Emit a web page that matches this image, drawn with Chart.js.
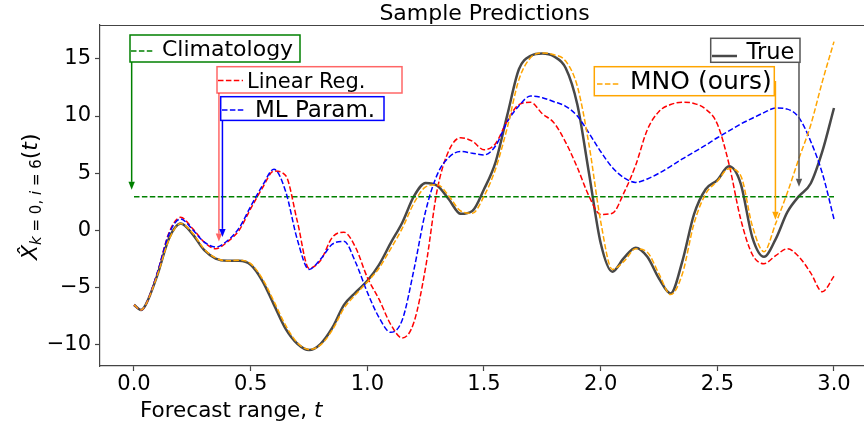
<!DOCTYPE html>
<html>
<head>
<meta charset="utf-8">
<script src="https://cdn.jsdelivr.net/npm/chart.js@4.4.0/dist/chart.umd.min.js"></script>
<style>
  html, body { margin: 0; padding: 0; background: #fff; overflow: hidden; }
</style>
</head>
<body>
<canvas id="predChart" width="864" height="423"></canvas>
<script>
// forecast time axis
const t = [0, 0.03, 0.05, 0.1, 0.15, 0.2, 0.25, 0.3, 0.35, 0.4, 0.45, 0.5, 0.55, 0.6, 0.65, 0.7, 0.75,
  0.8, 0.85, 0.9, 0.95, 1.0, 1.05, 1.1, 1.15, 1.2, 1.25, 1.3, 1.35, 1.4, 1.45, 1.5, 1.55, 1.6, 1.65,
  1.7, 1.75, 1.8, 1.85, 1.9, 1.95, 2.0, 2.05, 2.1, 2.15, 2.2, 2.25, 2.3, 2.35, 2.4, 2.45, 2.5, 2.55,
  2.6, 2.65, 2.7, 2.75, 2.8, 2.85, 2.9, 2.95, 3.0];

const trueVals = [-6.5, -6.95, -6.5, -3.9, -0.7, 0.6, -0.3, -1.7, -2.45, -2.65, -2.65, -3.0, -4.4, -6.5,
  -8.6, -9.9, -10.45, -9.9, -8.5, -6.5, -5.4, -4.4, -3.0, -1.1, 0.7, 3.0, 4.15, 3.9, 2.7, 1.45, 1.7, 3.6,
  6.0, 10.1, 14.1, 15.25, 15.45, 15.2, 14.2, 11.0, 5.0, -1.1, -3.6, -2.4, -1.5, -2.3, -4.2, -5.5, -2.7,
  1.4, 3.6, 4.4, 5.6, 4.1, -0.6, -2.3, -0.75, 1.6, 3.0, 4.1, 6.9, 10.7];

const mnoVals = [-6.5, -6.95, -6.5, -3.9, -0.8, 0.6, -0.2, -1.6, -2.4, -2.65, -2.6, -2.9, -4.2, -6.2,
  -8.3, -9.8, -10.4, -10.0, -8.7, -6.8, -5.6, -4.5, -3.3, -1.6, 0.2, 2.4, 3.8, 4.0, 3.0, 1.7, 1.5, 3.0,
  5.4, 9.0, 13.2, 15.1, 15.5, 15.35, 14.8, 12.6, 7.5, 0.8, -3.4, -2.7, -1.6, -1.9, -3.8, -5.6, -3.8,
  0.6, 3.2, 4.3, 5.4, 4.8, 0.4, -1.85, 0.6, 3.3, 6.3, 9.2, 13.0, 16.5];

const linRegVals = [-6.5, -6.95, -6.5, -3.7, -0.2, 1.15, 0.2, -1.0, -1.6, -1.0, 0.0, 1.9, 3.7, 5.2,
  4.8, 0.8, -3.3, -2.6, -0.6, -0.15, -1.5, -4.1, -6.0, -8.2, -9.4, -8.0, -3.2, 3.6, 7.0, 8.1, 7.8, 7.05,
  7.6, 9.6, 11.0, 11.2, 10.2, 9.4, 7.7, 5.5, 3.0, 1.4, 1.5, 3.3, 5.7, 8.8, 10.4, 11.0, 11.2, 11.1,
  10.6, 9.3, 5.8, 1.0, -2.1, -2.9, -2.2, -1.6, -2.3, -3.7, -5.35, -4.0];

const mlParamVals = [-6.5, -6.95, -6.5, -3.7, -0.3, 1.0, 0.1, -1.0, -1.45, -0.9, 0.2, 2.1, 3.9, 5.35,
  3.4, -0.8, -3.4, -2.5, -1.2, -0.95, -2.8, -5.4, -7.6, -8.9, -7.8, -3.4, 1.7, 4.9, 6.4, 6.9, 6.75, 6.6,
  7.4, 9.5, 10.9, 11.75, 11.6, 11.25, 10.85, 10.0, 8.5, 6.9, 5.5, 4.6, 4.2, 4.5, 5.0, 5.6, 6.25, 6.85,
  7.45, 8.1, 8.7, 9.3, 9.8, 10.3, 10.7, 10.6, 9.85, 7.8, 5.0, 1.0];

const climT = [0, 3];
const climVals = [2.95, 2.95];

const xTicks = [0, 0.5, 1.0, 1.5, 2.0, 2.5, 3.0];
const yTicks = [-10, -5, 0, 5, 10, 15];

const pts = (xs, ys) => xs.map((x, i) => ({ x: x, y: ys[i] }));

const FONT = "'DejaVu Sans', sans-serif";
const DASH = [5.5, 2.4];

// labelled boxes with arrows pointing into the plot (box in pixels, tip in data units)
const notes = [
  { text: "Climatology", size: 22, edge: "#008000", line: "#008000", dash: true,
    box: [130, 35, 170, 27], textX: 162, base: 55.5, sample: [131, 153, 51], from: 50, tip: [-0.01, 3.55] },
  { text: "Linear Reg.", size: 21, edge: "rgba(255,0,0,0.6)", line: "#ff0000", dash: true,
    box: [217, 66.7, 185, 26.3], textX: 247, base: 88, sample: [218, 243, 80.5], from: 80, tip: [0.364, -0.97] },
  { text: "ML Param.", size: 23, edge: "#0000ff", line: "#0000ff", dash: true,
    box: [220.7, 96.7, 163.3, 23.7], textX: 255, base: 116.5, sample: [222, 245, 110], from: 108, tip: [0.379, -0.56] },
  { text: "True", size: 22.5, edge: "#555555", line: "#484848", dash: false,
    box: [710.7, 38.3, 89.3, 24], textX: 746.5, base: 58.7, sample: [712, 737, 56], from: 50, tip: [2.85, 3.81] },
  { text: "MNO (ours)", size: 25, edge: "#ffa500", line: "#ffa500", dash: true,
    box: [594.3, 66.7, 180, 29], textX: 630, base: 89.3, sample: [597, 620, 84], from: 81, tip: [2.749, 0.93] }
];

function drawRuns(ctx, x, y, runs) {
  for (const r of runs) {
    ctx.font = r.font;
    ctx.fillText(r.text, x, y + (r.dy || 0));
    x += ctx.measureText(r.text).width;
  }
}

function drawArrow(ctx, x0, y0, x1, y1, color) {
  const a = Math.atan2(y1 - y0, x1 - x0);
  const L = 8, W = 3.2;
  ctx.save();
  ctx.setLineDash([]);
  ctx.strokeStyle = color;
  ctx.fillStyle = color;
  ctx.lineWidth = 1.5;
  ctx.beginPath();
  ctx.moveTo(x0, y0);
  ctx.lineTo(x1 - L * Math.cos(a), y1 - L * Math.sin(a));
  ctx.stroke();
  ctx.beginPath();
  ctx.moveTo(x1, y1);
  ctx.lineTo(x1 - L * Math.cos(a) + W * Math.sin(a), y1 - L * Math.sin(a) - W * Math.cos(a));
  ctx.lineTo(x1 - L * Math.cos(a) - W * Math.sin(a), y1 - L * Math.sin(a) + W * Math.cos(a));
  ctx.closePath();
  ctx.fill();
  ctx.restore();
}

const decorations = {
  id: "decorations",
  afterDraw(chart) {
    const ctx = chart.ctx;
    const area = chart.chartArea;
    const xs = chart.scales.x, ys = chart.scales.y;
    ctx.save();

    // top spine
    ctx.strokeStyle = "#444";
    ctx.lineWidth = 1.2;
    ctx.beginPath();
    ctx.moveTo(area.left, area.top + 0.5);
    ctx.lineTo(area.right, area.top + 0.5);
    ctx.stroke();

    // title
    ctx.fillStyle = "#000";
    ctx.textBaseline = "alphabetic";
    ctx.textAlign = "center";
    ctx.font = "22px " + FONT;
    ctx.fillText("Sample Predictions", 484.5, 19.5);

    // x axis label
    ctx.textAlign = "left";
    drawRuns(ctx, 140, 417, [
      { text: "Forecast range, ", font: "21.5px " + FONT },
      { text: "t", font: "italic 21.5px " + FONT }
    ]);

    // y axis label, rotated
    ctx.save();
    ctx.translate(37, 260);
    ctx.rotate(-Math.PI / 2);
    drawRuns(ctx, 0, 0, [
      { text: "X\u0302", font: "italic 22px " + FONT },
      { text: "k", font: "italic 15px " + FONT, dy: 4 },
      { text: " = 0, ", font: "15px " + FONT, dy: 4 },
      { text: "i", font: "italic 15px " + FONT, dy: 4 },
      { text: " = 6", font: "15px " + FONT, dy: 4 },
      { text: "(", font: "22px " + FONT },
      { text: "t", font: "italic 22px " + FONT },
      { text: ")", font: "22px " + FONT }
    ]);
    ctx.restore();

    // annotation boxes
    for (const n of notes) {
      const [bx, by, bw, bh] = n.box;
      const tx = xs.getPixelForValue(n.tip[0]);
      const ty = ys.getPixelForValue(n.tip[1]);
      drawArrow(ctx, tx, n.from, tx, ty, n.edge);

      ctx.fillStyle = "#fff";
      ctx.fillRect(bx, by, bw, bh);
      ctx.setLineDash([]);
      ctx.strokeStyle = n.edge;
      ctx.lineWidth = 1.5;
      ctx.strokeRect(bx, by, bw, bh);

      ctx.strokeStyle = n.line;
      ctx.lineWidth = n.dash ? 1.5 : 2.5;
      ctx.setLineDash(n.dash ? DASH : []);
      ctx.beginPath();
      ctx.moveTo(n.sample[0], n.sample[2]);
      ctx.lineTo(n.sample[1], n.sample[2]);
      ctx.stroke();
      ctx.setLineDash([]);

      ctx.fillStyle = "#000";
      ctx.font = n.size + "px " + FONT;
      ctx.fillText(n.text, n.textX, n.base);
    }
    ctx.restore();
  }
};

const dashed = (label, data, color, order) => ({
  label: label, data: data, borderColor: color, borderWidth: 1.5, borderDash: DASH,
  pointRadius: 0, cubicInterpolationMode: "monotone", fill: false, order: order
});

new Chart(document.getElementById("predChart").getContext("2d"), {
  type: "line",
  data: {
    datasets: [
      dashed("MNO (ours)", pts(t, mnoVals), "#ffa500", 0),
      dashed("ML Param.", pts(t, mlParamVals), "#0000ff", 1),
      dashed("Linear Reg.", pts(t, linRegVals), "#ff0000", 2),
      dashed("Climatology", pts(climT, climVals), "#008000", 3),
      {
        label: "True", data: pts(t, trueVals), borderColor: "#484848", borderWidth: 2.5,
        pointRadius: 0, cubicInterpolationMode: "monotone", fill: false, order: 4
      }
    ]
  },
  options: {
    responsive: false,
    animation: false,
    layout: { padding: { top: 25, right: 0, bottom: 0, left: 0 } },
    plugins: { legend: { display: false }, tooltip: { enabled: false }, title: { display: false } },
    scales: {
      x: {
        type: "linear",
        min: -0.1457,
        max: 3.1286,
        afterBuildTicks: (s) => { s.ticks = xTicks.map((v) => ({ value: v })); },
        afterFit: (s) => { s.height = 57; },
        grid: { drawOnChartArea: false, drawTicks: true, tickLength: 5, tickColor: "#444", tickWidth: 1.2 },
        border: { display: true, color: "#444", width: 1.2 },
        ticks: {
          color: "#000", padding: 1, maxRotation: 0, autoSkip: false,
          font: { family: FONT, size: 21 },
          callback: (v) => v.toFixed(1)
        }
      },
      y: {
        type: "linear",
        min: -11.84,
        max: 17.95,
        afterBuildTicks: (s) => { s.ticks = yTicks.map((v) => ({ value: v })); },
        afterFit: (s) => { s.width = 100; },
        grid: { drawOnChartArea: false, drawTicks: true, tickLength: 5, tickColor: "#444", tickWidth: 1.2 },
        border: { display: true, color: "#444", width: 1.2 },
        ticks: {
          color: "#000", padding: 4, autoSkip: false,
          font: { family: FONT, size: 21 },
          callback: (v) => (v < 0 ? "\u2212" + Math.abs(v) : String(v))
        }
      }
    }
  },
  plugins: [decorations]
});
</script>
</body>
</html>
